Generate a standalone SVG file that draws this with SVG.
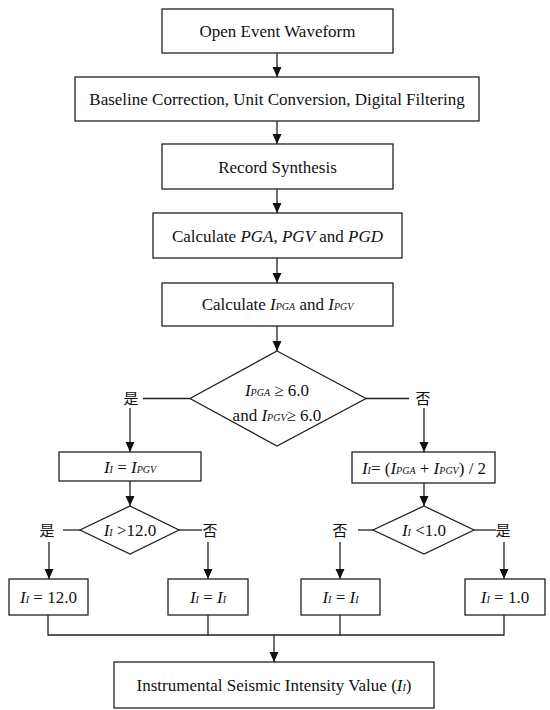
<svg xmlns="http://www.w3.org/2000/svg" width="550" height="710" viewBox="0 0 550 710">
<defs>
<marker id="ah" markerUnits="userSpaceOnUse" markerWidth="10" markerHeight="10" refX="10" refY="5" orient="auto">
<path d="M0,0.5 L10,5 L0,9.5 z" fill="#111"/>
</marker>
<style>
.b{fill:#fff;stroke:#222;stroke-width:1.3}
.c{fill:none;stroke:#222;stroke-width:1.3}
.a{fill:none;stroke:#222;stroke-width:1.3;marker-end:url(#ah)}
text{font-family:"Liberation Serif","DejaVu Serif",serif;font-size:17px;fill:#111;text-anchor:middle}
.i{font-style:italic}
.s{font-style:italic;font-size:10px}
.z{font-family:"Noto Sans CJK SC",sans-serif;font-size:15px}
</style>
</defs>
<rect width="550" height="710" fill="#fff"/>
<g id="n1"><rect class="b" x="162" y="9" width="231" height="44"/><text x="277.5" y="37">Open Event Waveform</text></g>
<g id="n2"><rect class="b" x="75" y="77" width="404" height="44"/><text x="277" y="105">Baseline Correction, Unit Conversion, Digital Filtering</text></g>
<g id="n3"><rect class="b" x="162" y="144" width="231" height="45"/><text x="277.5" y="172.5">Record Synthesis</text></g>
<g id="n4"><rect class="b" x="153" y="213" width="249" height="45"/><text x="277.5" y="241.5">Calculate <tspan class="i">PGA</tspan>, <tspan class="i">PGV</tspan> and <tspan class="i">PGD</tspan></text></g>
<g id="n5"><rect class="b" x="162" y="283" width="231" height="43"/><text x="277.5" y="310">Calculate <tspan class="i">I</tspan><tspan class="s">PGA</tspan> and <tspan class="i">I</tspan><tspan class="s">PGV</tspan></text></g>
<g id="d1"><polygon class="b" points="277,351 366,398.5 277,446 190,398.5"/>
<text x="277" y="395.5"><tspan class="i">I</tspan><tspan class="s">PGA</tspan> ≥ 6.0</text>
<text x="277" y="420.5">and <tspan class="i">I</tspan><tspan class="s">PGV</tspan>≥ 6.0</text></g>
<g id="n6"><rect class="b" x="59" y="452" width="142" height="29"/><text x="130" y="472.5"><tspan class="i">I</tspan><tspan class="s">I</tspan> = <tspan class="i">I</tspan><tspan class="s">PGV</tspan></text></g>
<g id="n7"><rect class="b" x="352" y="452" width="143" height="31"/><text x="424" y="473.5"><tspan class="i">I</tspan><tspan class="s">I</tspan>= (<tspan class="i">I</tspan><tspan class="s">PGA</tspan> + <tspan class="i">I</tspan><tspan class="s">PGV</tspan>) / 2</text></g>
<g id="d2"><polygon class="b" points="130,506 179,530 130,554 80,530"/><text x="130" y="536"><tspan class="i">I</tspan><tspan class="s">I</tspan> &gt;12.0</text></g>
<g id="d3"><polygon class="b" points="424,506 474,530 424,554 373,530"/><text x="424" y="536"><tspan class="i">I</tspan><tspan class="s">I</tspan> &lt;1.0</text></g>
<g id="n8"><rect class="b" x="9" y="579" width="79" height="36"/><text x="48.5" y="603"><tspan class="i">I</tspan><tspan class="s">I</tspan> = 12.0</text></g>
<g id="n9"><rect class="b" x="168" y="579" width="80" height="36"/><text x="208" y="603"><tspan class="i">I</tspan><tspan class="s">I</tspan> = <tspan class="i">I</tspan><tspan class="s">I</tspan></text></g>
<g id="n10"><rect class="b" x="301" y="579" width="79" height="36"/><text x="340.5" y="603"><tspan class="i">I</tspan><tspan class="s">I</tspan> = <tspan class="i">I</tspan><tspan class="s">I</tspan></text></g>
<g id="n11"><rect class="b" x="465" y="579" width="80" height="36"/><text x="505" y="603"><tspan class="i">I</tspan><tspan class="s">I</tspan> = 1.0</text></g>
<g id="n12"><rect class="b" x="114" y="662" width="320" height="46"/><text x="274" y="690.5">Instrumental Seismic Intensity Value (<tspan class="i">I</tspan><tspan class="s">I</tspan>)</text></g>
<g id="labels">
<text class="z" x="131" y="404">是</text>
<text class="z" x="423" y="404">否</text>
<text class="z" x="47" y="535.5">是</text>
<text class="z" x="210" y="535.5">否</text>
<text class="z" x="340" y="535.5">否</text>
<text class="z" x="503" y="535.5">是</text>
</g>
<g id="connectors">
<line class="a" x1="277" y1="53" x2="277" y2="77"/>
<line class="a" x1="277" y1="121" x2="277" y2="144"/>
<line class="a" x1="277" y1="189" x2="277" y2="213"/>
<line class="a" x1="277" y1="258" x2="277" y2="283"/>
<line class="a" x1="277" y1="326" x2="277" y2="351"/>
<line class="c" x1="190" y1="398.5" x2="143" y2="398.5"/>
<line class="c" x1="366" y1="398.5" x2="409" y2="398.5"/>
<line class="a" x1="130" y1="408" x2="130" y2="452"/>
<line class="a" x1="424" y1="408" x2="424" y2="452"/>
<line class="a" x1="130" y1="481" x2="130" y2="506"/>
<line class="a" x1="424" y1="483" x2="424" y2="506"/>
<line class="c" x1="80" y1="530" x2="63" y2="530"/>
<line class="c" x1="179" y1="530" x2="202" y2="530"/>
<line class="c" x1="373" y1="530" x2="358" y2="530"/>
<line class="c" x1="474" y1="530" x2="496" y2="530"/>
<line class="a" x1="49" y1="542" x2="49" y2="579"/>
<line class="a" x1="208" y1="542" x2="208" y2="579"/>
<line class="a" x1="340" y1="542" x2="340" y2="579"/>
<line class="a" x1="504" y1="542" x2="504" y2="579"/>
<polyline class="c" points="48,615 48,635 504,635 504,615"/>
<line class="c" x1="208" y1="615" x2="208" y2="635"/>
<line class="c" x1="340" y1="615" x2="340" y2="635"/>
<line class="a" x1="274" y1="635" x2="274" y2="662"/>
</g>
</svg>
